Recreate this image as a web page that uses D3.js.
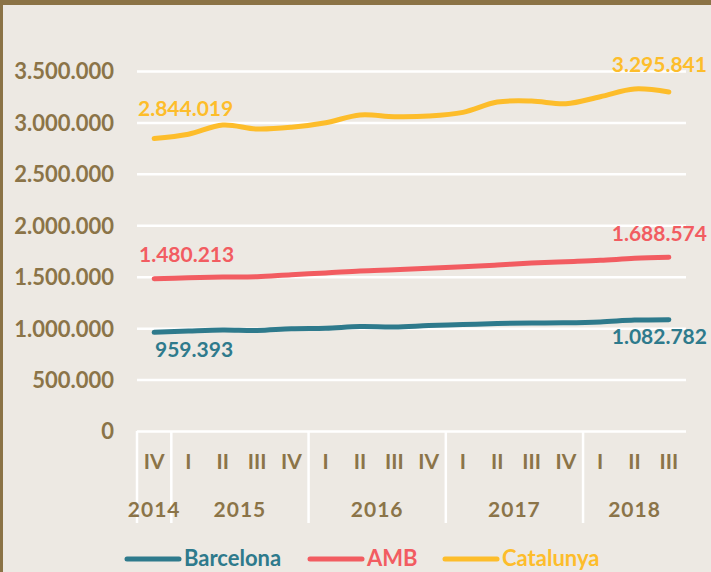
<!DOCTYPE html>
<html>
<head>
<meta charset="utf-8">
<script src="https://cdn.jsdelivr.net/npm/d3@7"></script>
<style>
  html, body { margin: 0; padding: 0; background: #ede9e3; }
  svg { display: block; }
  text { font-family: Lato, "Open Sans", sans-serif; font-weight: bold; }
</style>
</head>
<body>
<svg id="chart" width="711" height="572"></svg>
<script>
// ---- data ----
const quarters = ["IV","I","II","III","IV","I","II","III","IV","I","II","III","IV","I","II","III"];
const quarterYears = ["2014","2015","2015","2015","2015","2016","2016","2016","2016","2017","2017","2017","2017","2018","2018","2018"];
const years = ["2014","2015","2016","2017","2018"];
const seriesNames = ["Barcelona","AMB","Catalunya"];
const barcelona = [959393,972000,982000,978000,995000,1000000,1015000,1012000,1025000,1035000,1045000,1050000,1052000,1060000,1078000,1082782];
const amb = [1480213,1490000,1497000,1500000,1520000,1536000,1556000,1568000,1582000,1597000,1614000,1633000,1646000,1659000,1679000,1688574];
const catalunya = [2844019,2885000,2975000,2936000,2953000,2997000,3072000,3056000,3062000,3098000,3198000,3208000,3182000,3250000,3325000,3295841];
const yTicks = [0,500000,1000000,1500000,2000000,2500000,3000000,3500000];

const colors = {Barcelona:"#2e7a8c", AMB:"#f25c61", Catalunya:"#fdbd2b"};
const textColor = "#8b7448";
const seriesData = {Barcelona: barcelona, AMB: amb, Catalunya: catalunya};

const locale = d3.formatLocale({decimal: ",", thousands: ".", grouping: [3], currency: ["", "€"]});
const fmt = locale.format(",d");

const svg = d3.select("#chart");
const W = 711, H = 572;

// background & frame
svg.append("rect").attr("width", W).attr("height", H).attr("fill", "#ede9e3");
svg.append("rect").attr("x", 0).attr("y", 0).attr("width", W).attr("height", 5).attr("fill", "#8b7346");
svg.append("rect").attr("x", 0).attr("y", 0).attr("width", 3).attr("height", H).attr("fill", "#8b7346");

const pLeft = 137, pRight = 686, pTop = 71, pBottom = 431;

const x = d3.scaleBand().domain(d3.range(quarters.length)).range([pLeft, pRight]).padding(0);
const y = d3.scaleLinear().domain([0, 3500000]).range([pBottom, pTop]);
const cx = i => x(i) + x.bandwidth() / 2;

// gridlines + y labels
const yAxis = d3.axisLeft(y).tickValues(yTicks).tickFormat(fmt).tickSize(-(pRight - pLeft)).tickPadding(23);
const gy = svg.append("g").attr("transform", `translate(${pLeft},0)`).call(yAxis);
gy.select(".domain").remove();
gy.selectAll(".tick line").attr("stroke", "#ffffff").attr("stroke-width", 2.5);
gy.selectAll(".tick text").attr("fill", textColor).attr("font-size", 22)
  .attr("font-family", "Lato, sans-serif").attr("font-weight", "bold").attr("dy", "0.36em");

// category axis: quarters
const gx = svg.append("g");
gx.selectAll("text.q").data(quarters).join("text")
  .attr("class", "q")
  .attr("x", (d, i) => cx(i)).attr("y", 469)
  .attr("text-anchor", "middle").attr("fill", textColor).attr("font-size", 21)
  .text(d => d);

// year groups
const yearGroups = years.map(yr => {
  const idx = quarterYears.map((q, i) => q === yr ? i : -1).filter(i => i >= 0);
  return {year: yr, first: d3.min(idx), last: d3.max(idx)};
});
gx.selectAll("line.sep").data(yearGroups).join("line")
  .attr("class", "sep")
  .attr("x1", d => x(d.first)).attr("x2", d => x(d.first))
  .attr("y1", pBottom).attr("y2", 523)
  .attr("stroke", "#ffffff").attr("stroke-width", 2.5);
gx.selectAll("text.yr").data(yearGroups).join("text")
  .attr("class", "yr")
  .attr("x", d => (x(d.first) + x(d.last) + x.bandwidth()) / 2).attr("y", 517)
  .attr("text-anchor", "middle").attr("fill", textColor).attr("font-size", 21)
  .attr("letter-spacing", 1)
  .text(d => d.year);

// lines
const line = d3.line().x((d, i) => cx(i)).y(d => y(d)).curve(d3.curveCatmullRom.alpha(0.5));
seriesNames.forEach(name => {
  svg.append("path").datum(seriesData[name])
    .attr("d", line).attr("fill", "none")
    .attr("stroke", colors[name]).attr("stroke-width", 5)
    .attr("stroke-linecap", "round").attr("stroke-linejoin", "round");
});

// data labels (first and last)
const labels = [
  {name: "Catalunya", i: 0, anchor: "start", xx: 138, yy: 116},
  {name: "Catalunya", i: 15, anchor: "end", xx: 707, yy: 72},
  {name: "AMB", i: 0, anchor: "start", xx: 139, yy: 262},
  {name: "AMB", i: 15, anchor: "end", xx: 707, yy: 241},
  {name: "Barcelona", i: 0, anchor: "start", xx: 155, yy: 357},
  {name: "Barcelona", i: 15, anchor: "end", xx: 707, yy: 344}
];
svg.selectAll("text.lbl").data(labels).join("text")
  .attr("class", "lbl")
  .attr("x", d => d.xx).attr("y", d => d.yy)
  .attr("text-anchor", d => d.anchor)
  .attr("fill", d => colors[d.name]).attr("font-size", 21)
  .text(d => fmt(seriesData[d.name][d.i]));

// legend
const legendItems = [
  {name: "Barcelona", x0: 127},
  {name: "AMB", x0: 310},
  {name: "Catalunya", x0: 445}
];
const lg = svg.append("g");
legendItems.forEach(it => {
  lg.append("line").attr("x1", it.x0).attr("x2", it.x0 + 52).attr("y1", 559).attr("y2", 559)
    .attr("stroke", colors[it.name]).attr("stroke-width", 5).attr("stroke-linecap", "round");
  lg.append("text").attr("x", it.x0 + 57).attr("y", 566)
    .attr("fill", colors[it.name]).attr("font-size", 22).text(it.name);
});
</script>
</body>
</html>
